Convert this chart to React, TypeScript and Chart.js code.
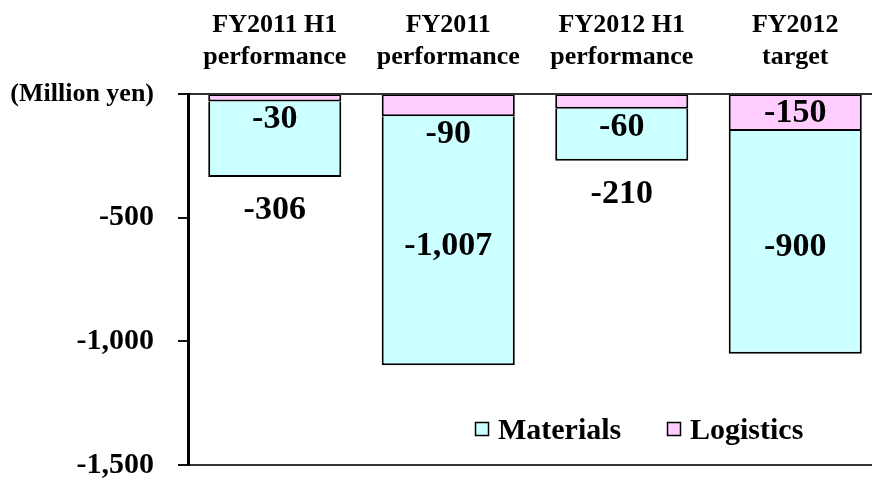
import React, { useEffect, useRef } from "react";
import { Chart, registerables } from "chart.js";

Chart.register(...registerables);

const categories: string[][] = [
  ["FY2011 H1", "performance"],
  ["FY2011", "performance"],
  ["FY2012 H1", "performance"],
  ["FY2012", "target"],
];
const logisticsValues = [-30, -90, -60, -150];
const materialsValues = [-306, -1007, -210, -900];
const yMin = -1500;
const yMax = 0;
const yStep = 500;
const unitLabel = "(Million yen)";

const FONT = "'Liberation Serif', 'Times New Roman', serif";
const CYAN = "#CCFFFF";
const PINK = "#FFCCFF";

const barLabelPlugin = {
  id: "barLabels",
  afterDatasetsDraw(chart: any) {
    const ctx = chart.ctx;
    ctx.save();
    ctx.font = `bold 34px ${FONT}`;
    ctx.fillStyle = "#000";
    ctx.textAlign = "center";
    ctx.textBaseline = "middle";
    chart.data.datasets.forEach((ds: any, di: number) => {
      const meta = chart.getDatasetMeta(di);
      meta.data.forEach((el: any, i: number) => {
        const { x, y, base } = el.getProps(["x", "y", "base"], true);
        const h = Math.abs(y - base);
        const v = ds.data[i] as number;
        const text = v.toLocaleString("en-US");
        let ty: number;
        if (ds.label === "Logistics") {
          ty = h > 34 ? (y + base) / 2 : y + 18;
        } else {
          ty = h > 120 ? (y + base) / 2 + 5 : y + 33;
        }
        ctx.fillText(text, x, ty);
      });
    });
    ctx.restore();
  },
};

const legendPlugin = {
  id: "innerLegend",
  afterDraw(chart: any) {
    const ctx = chart.ctx;
    const items = [...chart.data.datasets].reverse();
    const xs = [475, 667];
    ctx.save();
    ctx.font = `bold 30px ${FONT}`;
    ctx.textAlign = "left";
    ctx.textBaseline = "alphabetic";
    items.forEach((ds: any, i: number) => {
      const x = xs[i];
      ctx.fillStyle = ds.backgroundColor;
      ctx.fillRect(x + 0.5, 422.5, 13, 13);
      ctx.strokeStyle = "#000";
      ctx.lineWidth = 1.5;
      ctx.strokeRect(x + 0.5, 422.5, 13, 13);
      ctx.fillStyle = "#000";
      ctx.fillText(ds.label, x + 23, 439);
    });
    ctx.restore();
  },
};

export default function App() {
  const ref = useRef<HTMLCanvasElement | null>(null);
  useEffect(() => {
    if (!ref.current) return;
    const chart = new Chart(ref.current, {
      type: "bar",
      data: {
        labels: categories,
        datasets: [
          {
            label: "Logistics",
            data: logisticsValues,
            backgroundColor: PINK,
            borderColor: "#000",
            borderWidth: { top: 1, left: 2, right: 2, bottom: 2 },
            borderSkipped: false,
          },
          {
            label: "Materials",
            data: materialsValues,
            backgroundColor: CYAN,
            borderColor: "#000",
            borderWidth: { top: 0, left: 2, right: 2, bottom: 2 },
            borderSkipped: false,
          },
        ],
      },
      options: {
        responsive: false,
        animation: false,
        devicePixelRatio: 1,
        layout: { padding: { left: 0, right: 8, top: 0, bottom: 16 } },
        datasets: {
          bar: { barPercentage: 0.767, categoryPercentage: 1 },
        },
        plugins: {
          legend: { display: false },
          tooltip: { enabled: false },
        },
        scales: {
          x: {
            position: "top",
            stacked: true,
            offset: true,
            grid: { display: false, drawTicks: false },
            border: { display: false },
            ticks: {
              color: "#000",
              font: { family: FONT, size: 26, weight: "bold", lineHeight: 1.23 },
              padding: 21,
              maxRotation: 0,
              autoSkip: false,
            },
            afterFit(scale: any) {
              scale.height = 94;
              scale.paddingLeft = 0;
              scale.paddingRight = 0;
            },
          },
          y: {
            stacked: true,
            min: yMin,
            max: yMax,
            ticks: {
              stepSize: yStep,
              color: "#000",
              padding: 24,
              font: (ctx: any) =>
                ctx.tick && ctx.tick.value === 0
                  ? { family: FONT, size: 26, weight: "bold", lineHeight: 1 }
                  : { family: FONT, size: 30, weight: "bold", lineHeight: 1 },
              callback: (v: any) =>
                Number(v) === 0 ? unitLabel : Number(v).toLocaleString("en-US"),
            },
            grid: {
              drawOnChartArea: true,
              tickLength: 10,
              tickWidth: 2,
              tickColor: "#111",
              lineWidth: 2,
              color: (ctx: any) =>
                ctx.tick && (ctx.tick.value === 0 || ctx.tick.value === yMin)
                  ? "#333"
                  : "rgba(0,0,0,0)",
            },
            border: { display: true, color: "#000", width: 3 },
            afterFit(scale: any) {
              scale.width = 188;
              scale.paddingTop = 0;
              scale.paddingBottom = 0;
            },
          },
        },
      },
      plugins: [barLabelPlugin, legendPlugin],
    } as any);
    return () => chart.destroy();
  }, []);

  return (
    <div
      style={{
        position: "fixed",
        left: 0,
        top: 0,
        width: 872,
        height: 481,
        overflow: "hidden",
        background: "#fff",
      }}
    >
      <canvas ref={ref} width={890} height={481} style={{ display: "block", width: 890, height: 481 }} />
    </div>
  );
}
